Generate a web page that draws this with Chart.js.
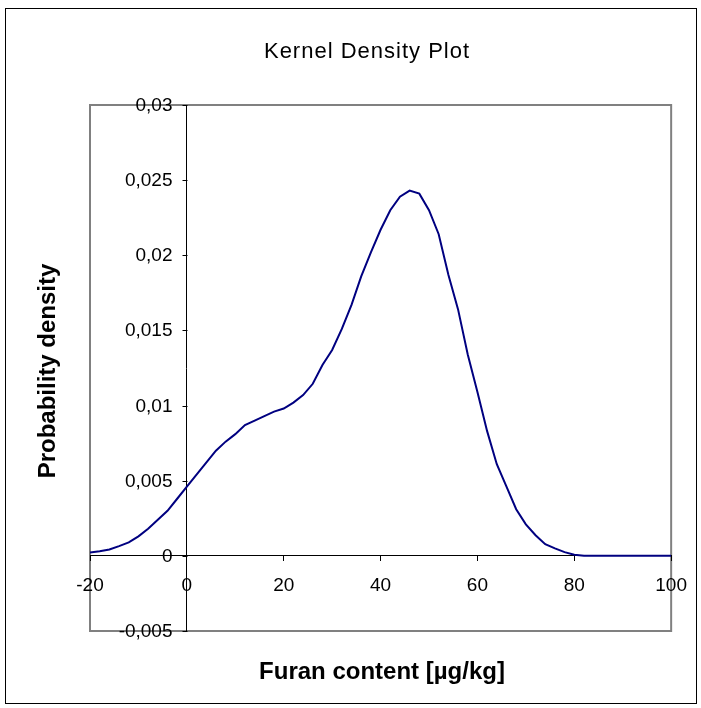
<!DOCTYPE html>
<html>
<head>
<meta charset="utf-8">
<script src="https://cdn.jsdelivr.net/npm/chart.js@4"></script>
<style>
  body { margin: 0; background: #fff; }
  #wrap { width: 701px; height: 708px; }
</style>
</head>
<body>
<div id="wrap"><canvas id="grafica" width="701" height="708"></canvas></div>
<script>
// furan content values (x) and estimated density (y)
const furan_x = [-20, -18, -16, -14, -12, -10, -8, -6, -4, -2, 0, 2, 4, 6, 8, 10, 12, 14, 16, 18,
  20, 22, 24, 26, 28, 30, 32, 34, 36, 38, 40, 42, 44, 46, 48, 50, 52, 54, 56, 58,
  60, 62, 64, 66, 68, 70, 72, 74, 76, 78, 80, 82, 84, 86, 88, 90, 92, 94, 96, 98, 100];
const densidad_y = [0.00022, 0.0003, 0.00042, 0.00065, 0.0009, 0.0013, 0.0018, 0.0024, 0.003, 0.0038,
  0.0046, 0.0054, 0.0062, 0.0070, 0.0076, 0.0081, 0.0087, 0.0090, 0.0093, 0.0096,
  0.0098, 0.0102, 0.0107, 0.01145, 0.0127, 0.0137, 0.0151, 0.0167, 0.0186, 0.0202,
  0.0217, 0.0230, 0.0239, 0.0243, 0.0241, 0.0230, 0.0214, 0.0187, 0.0164, 0.0134,
  0.0109, 0.0083, 0.0061, 0.0046, 0.0031, 0.0021, 0.00137, 0.00078, 0.0005, 0.00025,
  0.00008, 0, 0, 0, 0, 0, 0, 0, 0, 0, 0];

const titulo = 'Kernel Density Plot';
const titulo_x = 'Furan content [µg/kg]';
const titulo_y = 'Probability density';

const fuente = '"Liberation Sans", Arial, sans-serif';
const formato = v => Number(v.toFixed(3)).toString().replace('.', ',');

const decorado = {
  id: 'decorado',
  beforeDraw(chart) {
    const c = chart.ctx;
    const a = chart.chartArea;
    c.save();
    c.fillStyle = '#fff';
    c.fillRect(0, 0, chart.width, chart.height);
    c.strokeStyle = '#000';
    c.lineWidth = 1;
    c.strokeRect(5.5, 8.5, 691, 695);
    c.strokeStyle = '#808080';
    c.lineWidth = 2;
    c.strokeRect(a.left, a.top, a.right - a.left, a.bottom - a.top);
    c.restore();
  },
  afterDraw(chart) {
    const c = chart.ctx;
    const sy = chart.scales.y;
    const eje = Math.round(chart.scales.x.getPixelForValue(0)) + 0.5;
    c.save();
    // y ticks and labels, next to the axis at x = 0
    c.strokeStyle = '#000';
    c.lineWidth = 1;
    c.fillStyle = '#000';
    c.font = '19px ' + fuente;
    c.textAlign = 'right';
    c.textBaseline = 'middle';
    sy.ticks.forEach(t => {
      const py = Math.round(sy.getPixelForValue(t.value)) + 0.5;
      c.beginPath();
      c.moveTo(eje, py);
      c.lineTo(eje - 5, py);
      c.stroke();
      c.fillText(formato(t.value), eje - 15, py);
    });
    c.textAlign = 'center';
    c.textBaseline = 'alphabetic';
    c.font = '22px ' + fuente;
    c.letterSpacing = '1px';
    c.fillText(titulo, 367, 58);
    c.letterSpacing = '0px';
    c.font = 'bold 24px ' + fuente;
    c.fillText(titulo_x, 382, 679);
    c.translate(55, 371);
    c.rotate(-Math.PI / 2);
    c.fillText(titulo_y, 0, 0);
    c.restore();
  }
};

new Chart(document.getElementById('grafica').getContext('2d'), {
  type: 'scatter',
  data: {
    datasets: [
      {
        label: 'Density',
        data: furan_x.map((x, i) => ({x: x, y: densidad_y[i]})),
        showLine: true,
        borderColor: '#000080',
        borderWidth: 2,
        pointRadius: 0,
        tension: 0
      }
    ]
  },
  options: {
    responsive: false,
    animation: false,
    layout: { padding: { left: 90, top: 105, right: 29, bottom: 77 } },
    plugins: {
      legend: { display: false },
      tooltip: { enabled: false }
    },
    scales: {
      x: {
        type: 'linear',
        position: { y: 0 },
        min: -20,
        max: 100,
        ticks: {
          stepSize: 20,
          color: '#000',
          padding: 14,
          maxRotation: 0,
          font: { size: 19, family: fuente }
        },
        grid: { drawOnChartArea: false, drawTicks: true, tickLength: 5, color: '#000' },
        border: { display: true, color: '#000', width: 1 }
      },
      y: {
        type: 'linear',
        position: { x: 0 },
        min: -0.005,
        max: 0.03,
        ticks: {
          stepSize: 0.005,
          display: false
        },
        grid: { drawOnChartArea: false, drawTicks: false, color: '#000' },
        border: { display: true, color: '#000', width: 1 }
      }
    }
  },
  plugins: [decorado]
});
</script>
</body>
</html>
